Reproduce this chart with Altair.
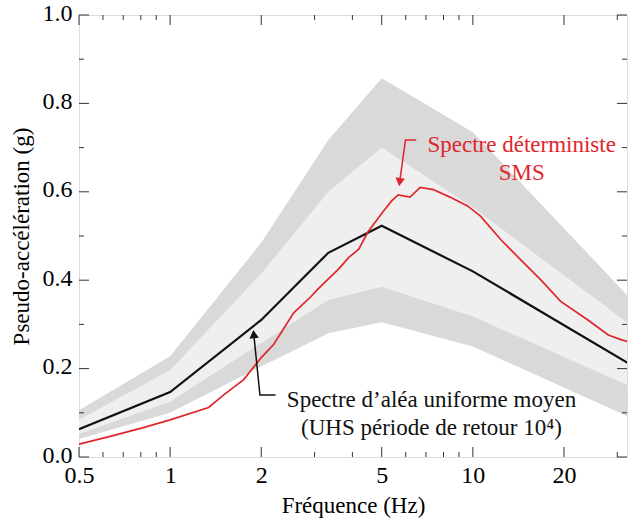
import altair as alt
import pandas as pd

# ---- data ----
band_freq = [0.5, 1, 2, 3.33, 5, 10, 33]
outer_lo = [0.041, 0.100, 0.205, 0.280, 0.305, 0.250, 0.090]
outer_hi = [0.106, 0.228, 0.485, 0.717, 0.857, 0.735, 0.360]
inner_lo = [0.052, 0.125, 0.258, 0.355, 0.385, 0.318, 0.160]
inner_hi = [0.084, 0.197, 0.415, 0.600, 0.700, 0.565, 0.300]

uhs_freq = [0.5, 1, 2, 3.33, 5, 10, 33]
uhs_acc = [0.063, 0.147, 0.31, 0.462, 0.523, 0.42, 0.21]

sms_freq = [0.5, 0.62, 0.81, 1.0, 1.34, 1.5, 1.75, 2.0, 2.2, 2.56, 2.91, 3.06, 3.3,
            3.6, 3.9, 4.2, 4.5, 5.1, 5.4, 5.67, 6.2, 6.7, 7.4, 8.4, 9.6, 10.6,
            12.4, 14.4, 16.8, 19.5, 24, 28, 31, 33]
sms_acc = [0.029, 0.045, 0.066, 0.084, 0.112, 0.14, 0.175, 0.225, 0.255, 0.326, 0.362,
           0.378, 0.40, 0.425, 0.452, 0.47, 0.509, 0.559, 0.58, 0.593, 0.588, 0.610,
           0.605, 0.588, 0.568, 0.545, 0.491, 0.446, 0.40, 0.352, 0.31, 0.276, 0.265, 0.26]

x_major = [0.5, 1, 2, 5, 10, 20]
x_minor = [0.6, 0.7, 0.8, 0.9, 3, 4, 6, 7, 8, 9, 30]
y_major = [0.0, 0.2, 0.4, 0.6, 0.8, 1.0]
y_minor = [0.1, 0.3, 0.5, 0.7, 0.9]

red_arrow_f = [6.5, 5.99, 5.73]
red_arrow_a = [0.717, 0.717, 0.622]
blk_arrow_f = [2.23, 1.98, 1.889]
blk_arrow_a = [0.14, 0.14, 0.278]

red_text = ["Spectre déterministe", "SMS"]
red_text_f = [14.5, 14.5]
red_text_a = [0.69, 0.627]
blk_text = ["Spectre d\u2019aléa uniforme moyen", "(UHS période de retour 10\u2074)"]
blk_text_f = [7.3, 7.3]
blk_text_a = [0.113, 0.05]

FONT = "Liberation Serif"
W, H = 548, 442

xs = alt.Scale(type="log", domain=[0.5, 32.3])
ys = alt.Scale(domain=[0, 1])

xa = alt.Axis(
    values=x_major, format="~g", ticks=False, tickSize=0, domain=False, grid=False,
    labelFont=FONT, labelFontSize=24, labelColor="#000", labelPadding=6,
    labelFlush=False, labelOverlap=False,
    title="Fréquence (Hz)", titleFont=FONT, titleFontSize=23,
    titleFontWeight="normal", titleColor="#000", titlePadding=7)
ya = alt.Axis(
    values=y_major, format=".1f", ticks=False, tickSize=0, domain=False, grid=False,
    labelFont=FONT, labelFontSize=24, labelColor="#000", labelPadding=7,
    labelOverlap=False, labelFlush=False, labelOffset=-2,
    title="Pseudo-accélération (g)", titleFont=FONT, titleFontSize=23,
    titleFontWeight="normal", titleColor="#000", titlePadding=9)

def X(field):
    return alt.X(field, scale=xs, axis=xa)

def Y(field):
    return alt.Y(field, scale=ys, axis=ya)

bands = pd.DataFrame({"f": band_freq, "olo": outer_lo, "ohi": outer_hi,
                      "ilo": inner_lo, "ihi": inner_hi})
uhs = pd.DataFrame({"f": uhs_freq, "a": uhs_acc})
sms = pd.DataFrame({"f": sms_freq, "a": sms_acc})

outer = alt.Chart(bands).mark_area(color="#d9d9d9", clip=True).encode(
    x=X("f:Q"), y=Y("olo:Q"), y2="ohi:Q")
inner = alt.Chart(bands).mark_area(color="#efefef", clip=True).encode(
    x=X("f:Q"), y=Y("ilo:Q"), y2="ihi:Q")
uhs_line = alt.Chart(uhs).mark_line(color="#111111", strokeWidth=2.2, clip=True).encode(
    x=X("f:Q"), y=Y("a:Q"))
sms_line = alt.Chart(sms).mark_line(color="#e0262b", strokeWidth=1.7, clip=True).encode(
    x=X("f:Q"), y=Y("a:Q"))

def arrow(fs, accs, color, shape, angle):
    df = pd.DataFrame({"f": fs, "a": accs, "i": list(range(len(fs)))})
    line = alt.Chart(df).mark_line(color=color, strokeWidth=1.5).encode(
        x=X("f:Q"), y=Y("a:Q"), order="i:Q")
    head = alt.Chart(df.tail(1)).mark_point(
        shape=shape, filled=True, size=90, angle=angle, color=color, opacity=1
    ).encode(x=X("f:Q"), y=Y("a:Q"))
    return line + head

red_arrow = arrow(red_arrow_f, red_arrow_a, "#e0262b", "triangle-down", 8)
blk_arrow = arrow(blk_arrow_f, blk_arrow_a, "#111111", "triangle-up", 354)

def texts(labels, fs, accs, color):
    df = pd.DataFrame({"t": labels, "f": fs, "a": accs})
    return alt.Chart(df).mark_text(
        font=FONT, fontSize=23, color=color, align="center", baseline="alphabetic"
    ).encode(x=X("f:Q"), y=Y("a:Q"), text="t:N")

red_lbl = texts(red_text, red_text_f, red_text_a, "#e0262b")
blk_lbl = texts(blk_text, blk_text_f, blk_text_a, "#111111")

TICK = "#333333"

def xticks(vals, length):
    df = pd.DataFrame({"f": vals})
    bottom = alt.Chart(df).mark_rule(color=TICK, strokeWidth=1).encode(
        x=X("f:Q"), y=alt.value(H), y2=alt.value(H - length))
    top = alt.Chart(df).mark_rule(color=TICK, strokeWidth=1).encode(
        x=X("f:Q"), y=alt.value(0), y2=alt.value(length))
    return bottom + top

def yticks(vals, length):
    df = pd.DataFrame({"v": vals})
    left = alt.Chart(df).mark_rule(color=TICK, strokeWidth=1).encode(
        y=Y("v:Q"), x=alt.value(0), x2=alt.value(length))
    right = alt.Chart(df).mark_rule(color=TICK, strokeWidth=1).encode(
        y=Y("v:Q"), x=alt.value(W), x2=alt.value(W - length))
    return left + right

chart = alt.layer(
    outer, inner, uhs_line, sms_line, red_arrow, blk_arrow, red_lbl, blk_lbl,
    xticks(x_major, 10), xticks(x_minor, 5), yticks(y_major, 10), yticks(y_minor, 5),
).properties(
    width=W, height=H,
    autosize=alt.AutoSizeParams(type="none"),
    padding={"left": 79, "top": 15, "right": 1, "bottom": 61},
).configure_view(
    stroke="#222222", strokeWidth=1.6
).configure(background="white")

chart.save("out.html", embed_options={"renderer": "svg", "actions": False})
